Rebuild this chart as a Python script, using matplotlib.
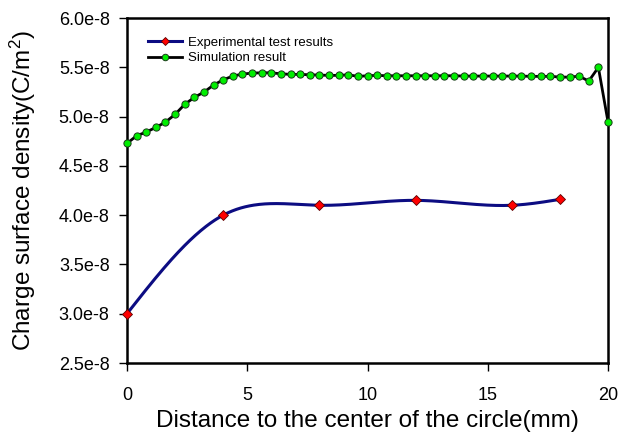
import numpy as np
import matplotlib
matplotlib.use("Agg")
import matplotlib.pyplot as plt
from matplotlib.ticker import FuncFormatter

plt.rcParams['font.family'] = ['Liberation Sans', 'DejaVu Sans']
plt.rcParams['mathtext.fontset'] = 'custom'
plt.rcParams['mathtext.rm'] = 'Liberation Sans'
plt.rcParams['mathtext.it'] = 'Liberation Sans:italic'

# Measured charge surface density (C/m^2) at radial positions (mm)
exp_x = [0, 4, 8, 12, 16, 18]
exp_y = [3.00e-8, 4.00e-8, 4.10e-8, 4.15e-8, 4.10e-8, 4.16e-8]

# Simulated charge surface density along the radius, every 0.4 mm
sim_x = [round(0.4 * i, 1) for i in range(51)]
sim_y = [4.728e-8, 4.805e-8, 4.843e-8, 4.890e-8, 4.944e-8, 5.022e-8, 5.124e-8,
         5.195e-8, 5.248e-8, 5.320e-8, 5.373e-8, 5.411e-8, 5.431e-8, 5.441e-8,
         5.444e-8, 5.444e-8, 5.434e-8, 5.428e-8, 5.428e-8, 5.424e-8, 5.421e-8,
         5.418e-8, 5.418e-8, 5.424e-8, 5.408e-8, 5.414e-8, 5.418e-8, 5.414e-8,
         5.414e-8, 5.414e-8, 5.414e-8, 5.414e-8, 5.414e-8, 5.414e-8, 5.414e-8,
         5.411e-8, 5.411e-8, 5.411e-8, 5.411e-8, 5.411e-8, 5.411e-8, 5.411e-8,
         5.408e-8, 5.408e-8, 5.408e-8, 5.401e-8, 5.400e-8, 5.410e-8, 5.360e-8,
         5.499e-8, 4.947e-8]

x_ticks = [0, 5, 10, 15, 20]
y_ticks = [2.5e-8, 3.0e-8, 3.5e-8, 4.0e-8, 4.5e-8, 5.0e-8, 5.5e-8, 6.0e-8]


def natural_spline(x, y, xs):
    """Natural cubic spline through (x, y), evaluated at xs."""
    x = np.asarray(x, float)
    y = np.asarray(y, float)
    n = len(x)
    h = np.diff(x)
    A = np.zeros((n, n))
    b = np.zeros(n)
    A[0, 0] = A[-1, -1] = 1.0
    for i in range(1, n - 1):
        A[i, i - 1] = h[i - 1]
        A[i, i] = 2 * (h[i - 1] + h[i])
        A[i, i + 1] = h[i]
        b[i] = 6 * ((y[i + 1] - y[i]) / h[i] - (y[i] - y[i - 1]) / h[i - 1])
    M = np.linalg.solve(A, b)
    idx = np.clip(np.searchsorted(x, xs) - 1, 0, n - 2)
    x0, x1 = x[idx], x[idx + 1]
    hh = x1 - x0
    t0 = x1 - xs
    t1 = xs - x0
    return (M[idx] * t0 ** 3 / (6 * hh) + M[idx + 1] * t1 ** 3 / (6 * hh)
            + (y[idx] / hh - M[idx] * hh / 6) * t0
            + (y[idx + 1] / hh - M[idx + 1] * hh / 6) * t1)


fig = plt.figure(figsize=(6.31, 4.40), dpi=100)
ax = fig.add_axes([127 / 631, 1 - 363 / 440, 481 / 631, 345 / 440])

# experimental data: smooth curve through measured points
xs = np.linspace(exp_x[0], exp_x[-1], 400)
ys = natural_spline(exp_x, [v * 1e8 for v in exp_y], xs) * 1e-8
ax.plot(xs, ys, color='#0c0c82', lw=2.2, zorder=2, solid_capstyle='round')
ax.plot(exp_x, exp_y, ls='none', marker='D', ms=5, mfc='#ff0000',
        mec='#5a0000', mew=0.6, zorder=4, clip_on=False)
exp_handle, = ax.plot([], [], color='#0c0c82', lw=2.2, marker='D', ms=5,
                      mfc='#ff0000', mec='#5a0000', mew=0.6)

# simulation data
sim_line, = ax.plot(sim_x, sim_y, color='black', lw=2.0, marker='o', ms=5.2,
                    mfc='#00ee00', mec='#1a3a1a', mew=0.7, zorder=3,
                    clip_on=False)

ax.set_xlim(0, 20)
ax.set_ylim(2.5e-8, 6.0e-8)
ax.set_xticks(x_ticks)
ax.set_yticks(y_ticks)
ax.yaxis.set_major_formatter(FuncFormatter(lambda v, p: f"{v * 1e8:.1f}e-8"))
ax.tick_params(direction='out', length=6, width=1.0, labelsize=13,
               top=False, right=False, colors='black')
ax.tick_params(axis='y', pad=6.5)
ax.tick_params(axis='x', pad=11)

for s in ax.spines.values():
    s.set_linewidth(1.8)

ax.set_xlabel("Distance to the center of the circle(mm)", fontsize=17.5)
ax.set_ylabel("Charge surface density(C/m$^2$)", fontsize=17.5)
ax.xaxis.set_label_coords(0.5, -0.135)
ax.yaxis.set_label_coords(-0.185, 0.5)

ax.legend([exp_handle, sim_line], ["Experimental test results", "Simulation result"],
          loc='upper left', bbox_to_anchor=(0.043, 0.946), frameon=False,
          fontsize=9.5, borderpad=0, borderaxespad=0, handlelength=2.6,
          handletextpad=0.45, labelspacing=0.25, markerscale=0.9)

fig.savefig("out.png", dpi=100, facecolor='white')
